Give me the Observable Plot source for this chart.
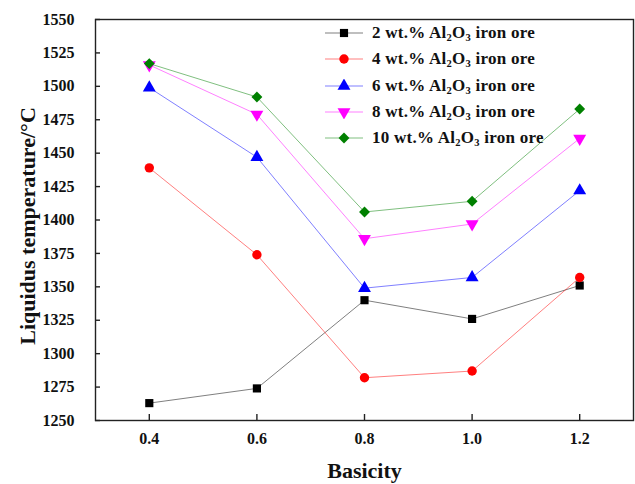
<!DOCTYPE html>
<html>
<head>
<meta charset="utf-8">
<script src="https://cdn.jsdelivr.net/npm/d3@7"></script>
<script src="https://cdn.jsdelivr.net/npm/@observablehq/plot@0.6"></script>
<style>
  html, body { margin: 0; padding: 0; background: #fff; }
  #wrap { position: relative; width: 635px; height: 484px; font-family: "Liberation Serif", "Times New Roman", serif; }
  #legend { position: absolute; left: 325px; top: 20px; }
  .row { display: flex; align-items: center; height: 26.3px; }
  .row svg { margin-right: 9px; }
  .row span { font-weight: bold; font-size: 17px; letter-spacing: 0.25px; color: #111; white-space: nowrap; }
  .row sub { font-size: 0.62em; vertical-align: -0.3em; line-height: 0; }
</style>
</head>
<body>
<div id="wrap"></div>
<script>
// ---- data ----
const basicity = [0.4, 0.6, 0.8, 1.0, 1.2];
const seriesNames = ["2", "4", "6", "8", "10"]; // wt.% Al2O3
const t2  = [1263, 1274, 1340, 1326, 1351];
const t4  = [1439, 1374, 1282, 1287, 1357];
const t6  = [1499, 1447, 1349, 1357, 1422];
const t8  = [1516, 1479, 1386, 1397, 1461];
const t10 = [1517, 1492, 1406, 1414, 1483];
const xTicks = [0.4, 0.6, 0.8, 1.0, 1.2];
const yTicks = [1250, 1275, 1300, 1325, 1350, 1375, 1400, 1425, 1450, 1475, 1500, 1525, 1550];
const colors = ["#000000", "#ff0000", "#0000ff", "#ff00ff", "#008000"];

// custom downward triangle symbol
const sqrt3 = Math.sqrt(3);
const triangleDown = {
  draw(context, size) {
    const y = -Math.sqrt(size / (sqrt3 * 3));
    context.moveTo(0, -y * 2);
    context.lineTo(-sqrt3 * y, y);
    context.lineTo(sqrt3 * y, y);
    context.closePath();
  }
};
const symbols = [d3.symbolSquare, d3.symbolCircle, d3.symbolTriangle, triangleDown, d3.symbolDiamond2];
const radii = [4.6, 4.7, 4.8, 4.8, 4.9];

const allSeries = [t2, t4, t6, t8, t10];
const table = [];
allSeries.forEach((vals, i) => {
  vals.forEach((v, j) => table.push({series: i, x: basicity[j], y: v}));
});

const marks = [
  Plot.frame({stroke: "#222", strokeWidth: 1.4}),
  Plot.axisX({ticks: xTicks, tickSize: -6, tickPadding: 18, tickFormat: d3.format(".1f"),
    fontSize: 16, fontWeight: "bold", label: null, stroke: "#222", strokeWidth: 1.4}),
  Plot.axisY({ticks: yTicks, tickSize: -5, tickPadding: 26, tickFormat: d => String(d),
    fontSize: 16, fontWeight: "bold", label: null, stroke: "#222", strokeWidth: 1.4}),
  Plot.text(["Basicity"], {frameAnchor: "bottom", dy: 57, fontSize: 22, fontWeight: "bold", fill: "#111"}),
  Plot.text(["Liquidus temperature/°C"], {frameAnchor: "left", textAnchor: "middle", rotate: -90, dx: -68, dy: 6, fontSize: 22, fontWeight: "bold", fill: "#111"})
];
allSeries.forEach((vals, i) => {
  const d = table.filter(r => r.series === i);
  marks.push(Plot.line(d, {x: "x", y: "y", stroke: colors[i], strokeWidth: 1, strokeOpacity: 0.5}));
});
allSeries.forEach((vals, i) => {
  const d = table.filter(r => r.series === i);
  marks.push(Plot.dot(d, {x: "x", y: "y", fill: colors[i], stroke: "none", symbol: symbols[i], r: radii[i]}));
});

const chart = Plot.plot({
  width: 635,
  height: 484,
  marginLeft: 95,
  marginRight: 2,
  marginTop: 19,
  marginBottom: 64,
  x: {domain: [0.3, 1.3]},
  y: {domain: [1250, 1550]},
  style: {fontFamily: "Liberation Serif, Times New Roman, serif", background: "white", color: "#111"},
  marks
});
const wrap = document.getElementById("wrap");
wrap.appendChild(chart);

// legend
const legend = document.createElement("div");
legend.id = "legend";
seriesNames.forEach((name, i) => {
  const row = document.createElement("div");
  row.className = "row";
  const path = d3.symbol(symbols[i], Math.PI * radii[i] * radii[i])();
  row.innerHTML =
    `<svg width="38" height="14"><line x1="0" x2="38" y1="7" y2="7" stroke="${colors[i]}" stroke-opacity="0.5" stroke-width="1"/>` +
    `<path d="${path}" transform="translate(19,7)" fill="${colors[i]}"/></svg>` +
    `<span>${name} wt.% Al<sub>2</sub>O<sub>3</sub> iron ore</span>`;
  legend.appendChild(row);
});
wrap.appendChild(legend);
</script>
</body>
</html>
